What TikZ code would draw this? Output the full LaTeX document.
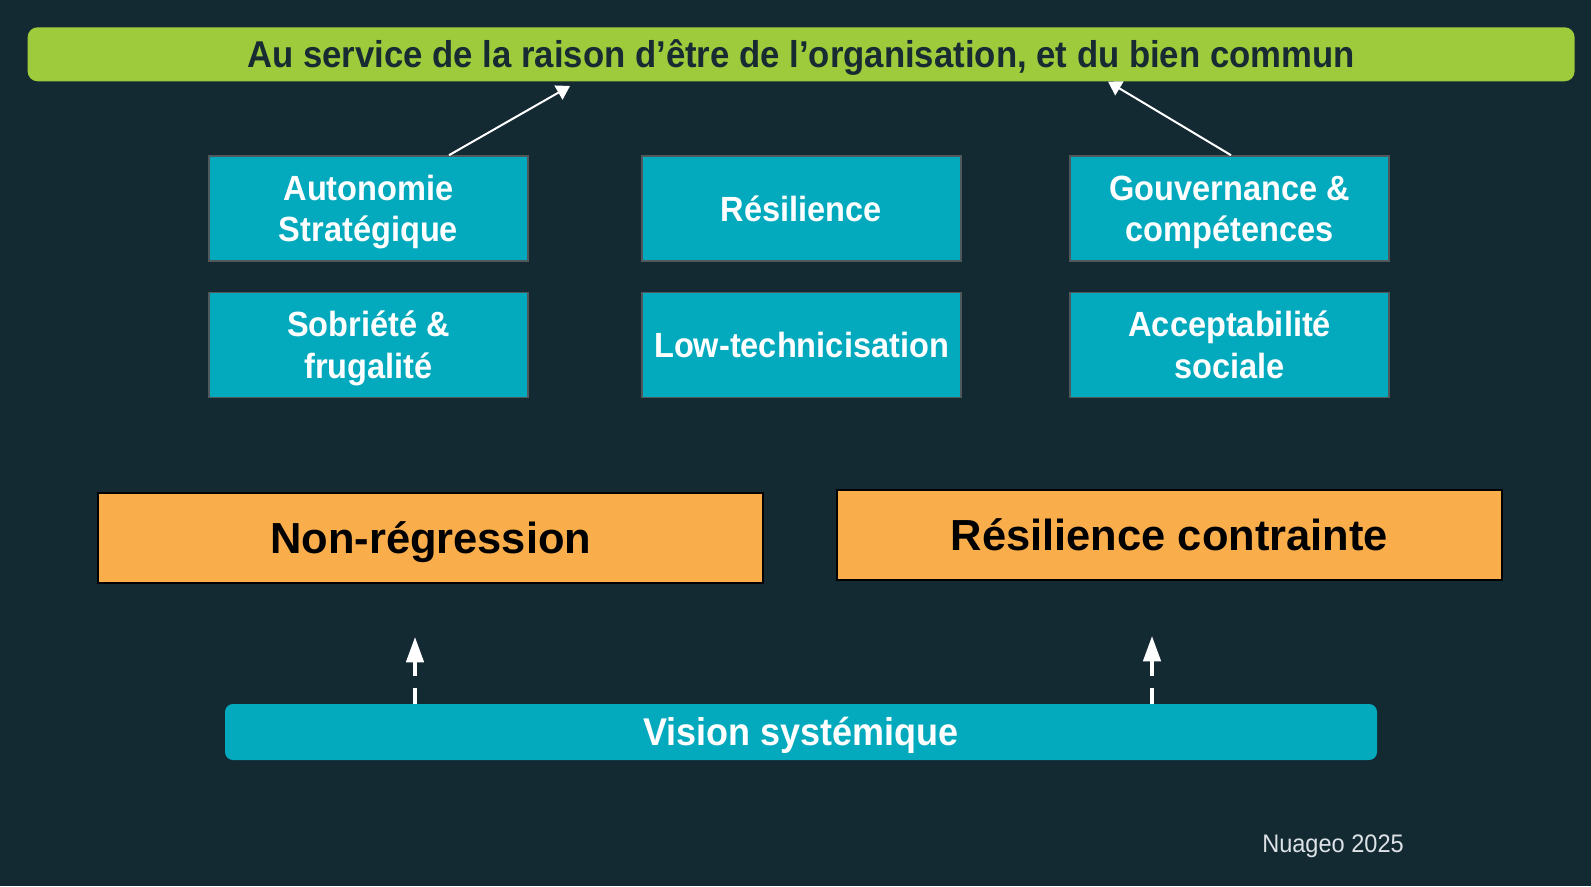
\documentclass[tikz,border=0pt]{standalone}
\usepackage{fontspec}
\setmainfont{Liberation Sans}
\newfontfamily\robo{Liberation Sans}[FakeStretch=0.93]
\usetikzlibrary{arrows.meta}
\definecolor{bgc}{HTML}{142A33}
\definecolor{lime}{HTML}{9DCB3B}
\definecolor{tealc}{HTML}{03A9BD}
\definecolor{tealb}{HTML}{50585C}
\definecolor{orng}{HTML}{F9AD4B}
\definecolor{darktxt}{HTML}{182A32}
\definecolor{footc}{HTML}{DCE2E5}
\tikzset{
  topbar/.style={fill=lime, rounded corners=7.5pt, inner sep=0pt,
    minimum width=1547*0.75pt, minimum height=54*0.75pt, text=darktxt,
    font={\robo\bfseries\fontsize{28}{32}\selectfont}, text height=20pt, text depth=0pt},
  pillar/.style={fill=tealc, draw=tealb, line width=1.2pt, inner sep=0pt,
    minimum width=319*0.75pt, minimum height=105*0.75pt, text=white, align=center,
    font={\robo\bfseries\fontsize{26.25}{31.1}\selectfont}},
  onecap/.style={text height=18.75pt, text depth=0pt},
  twoline/.style={text height=49.5pt, text depth=0pt},
  orangebox/.style={fill=orng, draw=black, line width=1.5pt, inner sep=0pt,
    minimum width=665*0.75pt, minimum height=90*0.75pt, text=black,
    font={\bfseries\fontsize{32.6}{36}\selectfont}, text height=23.4pt, text depth=0pt},
  visionbar/.style={fill=tealc, rounded corners=6pt, inner sep=0pt,
    minimum width=1152*0.75pt, minimum height=56*0.75pt, text=white,
    font={\robo\bfseries\fontsize{29}{33}\selectfont}, text height=20.8pt, text depth=0pt},
  uparrow/.style={draw=white, line width=1.5pt, -{Triangle[length=10pt,width=12pt]}},
  dasharrow/.style={draw=white, line width=2.7pt, dash pattern=on 12pt off 9pt,
    -{Triangle[length=19pt,width=13pt]}},
}
\begin{document}
\begin{tikzpicture}[x=0.75pt,y=-0.75pt]
\fill[bgc] (0,0) rectangle (1591,886);
\useasboundingbox (0,0) rectangle (1591,886);

\node[topbar] (top) at (801.1,54.3) {Au service de la raison d’être de l’organisation, et du bien commun};

\node[pillar,twoline] (auto) at (368.5,208.5) {Autonomie\\Stratégique};
\node[pillar,onecap] (resi) at (801.5,208.5) {Résilience};
\node[pillar,twoline] (gouv) at (1229.75,208.5) {Gouvernance \&\\compétences};
\node[pillar,twoline] (sobr) at (368.5,345) {Sobriété \&\\frugalité};
\node[pillar,onecap] (low) at (801.5,345) {Low-technicisation};
\node[pillar,twoline] (acce) at (1229.75,345) {Acceptabilité\\sociale};

\coordinate (s1) at (449,0);
\coordinate (t1) at (570,86);
\coordinate (s2) at (1231,0);
\coordinate (t2) at (1108,0);
\draw[uparrow] (auto.north -| s1) -- (t1);
\draw[uparrow] (gouv.north -| s2) -- (top.south -| t2);

\node[orangebox] (nonreg) at (430.75,538) {Non-régression};
\node[orangebox] (rescon) at (1169.4,535) {Résilience contrainte};

\node[visionbar] (vision) at (801,732) {Vision systémique};

\coordinate (d1) at (415,637);
\coordinate (d2) at (1152,636);
\draw[dasharrow] (vision.north -| d1) -- (d1);
\draw[dasharrow] (vision.north -| d2) -- (d2);

\node[anchor=base west, inner sep=0pt, text=footc, font={\robo\fontsize{19}{22}\selectfont}] (foot) at (1262,852.3) {Nuageo 2025};
\end{tikzpicture}
\end{document}
